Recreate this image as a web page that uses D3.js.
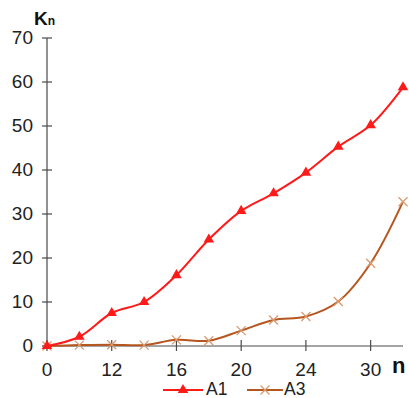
<!DOCTYPE html>
<html>
<head>
<meta charset="utf-8">
<script src="https://cdn.jsdelivr.net/npm/d3@7"></script>
<style>
  html, body { margin: 0; padding: 0; background: #fff; }
  svg { display: block; font-family: Arial, "Liberation Sans", sans-serif; }
</style>
</head>
<body>
<svg id="chart" width="409" height="398"></svg>
<script>
// Sample positions along n (only some are labelled on the axis)
const categories = ["0", "6", "12", "14", "16", "18", "20", "22", "24", "27", "30", "33"];
const tickLabels = ["0", "12", "16", "20", "24", "30"];
const yTicks = [0, 10, 20, 30, 40, 50, 60, 70];

const seriesA1 = [0, 2.1, 7.5, 10.0, 16.1, 24.2, 30.7, 34.7, 39.4, 45.3, 50.2, 58.8];
const seriesA3 = [0, 0.2, 0.3, 0.2, 1.4, 1.2, 3.5, 5.9, 6.7, 10.1, 18.8, 32.8];

(function () {
  const svg = d3.select("#chart");
  const plotL = 47, plotR = 403, plotT = 38, plotB = 346;

  const x = d3.scalePoint().domain(categories).range([plotL, plotR]);
  const y = d3.scaleLinear().domain([0, 70]).range([plotB, plotT]);

  const axisColor = "#4a4a4a";

  // Y axis with ticks crossing the line
  svg.append("line").attr("x1", plotL).attr("x2", plotL).attr("y1", plotT).attr("y2", plotB)
    .attr("stroke", axisColor).attr("stroke-width", 1.2);
  svg.selectAll(".ytick").data(yTicks).enter().append("line")
    .attr("x1", plotL - 5).attr("x2", plotL + 5)
    .attr("y1", d => y(d)).attr("y2", d => y(d))
    .attr("stroke", axisColor).attr("stroke-width", 1.2);
  svg.selectAll(".ylab").data(yTicks).enter().append("text")
    .attr("x", plotL - 14).attr("y", d => y(d) + 6)
    .attr("text-anchor", "end").attr("font-size", 19).attr("fill", "#222")
    .text(d => d);

  // X axis
  svg.append("line").attr("x1", plotL).attr("x2", plotR).attr("y1", plotB).attr("y2", plotB)
    .attr("stroke", axisColor).attr("stroke-width", 1.2);
  const tickCats = categories.filter(c => tickLabels.includes(c));
  svg.selectAll(".xtick").data(tickCats).enter().append("line")
    .attr("x1", d => x(d)).attr("x2", d => x(d))
    .attr("y1", plotB - 6).attr("y2", plotB + 5)
    .attr("stroke", axisColor).attr("stroke-width", 1.2);
  svg.selectAll(".xlab").data(tickCats).enter().append("text")
    .attr("x", d => x(d)).attr("y", plotB + 30)
    .attr("text-anchor", "middle").attr("font-size", 19).attr("fill", "#222")
    .text(d => d);

  // Axis titles
  const kt = svg.append("text").attr("x", 34).attr("y", 25)
    .attr("font-weight", "bold").attr("fill", "#111");
  kt.append("tspan").attr("font-size", 19).text("K");
  kt.append("tspan").attr("font-size", 12).text("n");
  svg.append("text").attr("x", 392).attr("y", 373).attr("font-size", 22)
    .attr("font-weight", "bold").attr("fill", "#111").text("n");

  const line = d3.line().x((d, i) => x(categories[i])).y(d => y(d)).curve(d3.curveCatmullRom.alpha(0.5));

  const colA1 = "#ff1a1a", colA3 = "#b5561f", colA3m = "#d99a70";
  const tri = d3.symbol().type(d3.symbolTriangle).size(48);

  function cross(g, cx, cy, s) {
    g.append("path").attr("d", `M${cx - s},${cy - s}L${cx + s},${cy + s}M${cx - s},${cy + s}L${cx + s},${cy - s}`)
      .attr("stroke", colA3m).attr("stroke-width", 1.3).attr("fill", "none");
  }

  // A3 series
  svg.append("path").datum(seriesA3).attr("d", line).attr("fill", "none")
    .attr("stroke", colA3).attr("stroke-width", 2);
  const gA3 = svg.append("g");
  seriesA3.forEach((v, i) => cross(gA3, x(categories[i]), y(v), 4.5));

  // A1 series
  svg.append("path").datum(seriesA1).attr("d", line).attr("fill", "none")
    .attr("stroke", colA1).attr("stroke-width", 2);
  svg.selectAll(".a1m").data(seriesA1).enter().append("path")
    .attr("d", tri).attr("fill", colA1)
    .attr("transform", (d, i) => `translate(${x(categories[i])},${y(d)})`);

  // Legend
  const ly = 390;
  svg.append("line").attr("x1", 163).attr("x2", 203).attr("y1", ly).attr("y2", ly)
    .attr("stroke", colA1).attr("stroke-width", 2);
  svg.append("path").attr("d", tri).attr("fill", colA1).attr("transform", `translate(183,${ly})`);
  svg.append("text").attr("x", 206).attr("y", 395).attr("font-size", 17.5).attr("fill", "#222").text("A1");
  svg.append("line").attr("x1", 247).attr("x2", 283).attr("y1", ly).attr("y2", ly)
    .attr("stroke", colA3).attr("stroke-width", 2);
  cross(svg, 265, ly, 4.5);
  svg.append("text").attr("x", 284).attr("y", 395).attr("font-size", 17.5).attr("fill", "#222").text("A3");
})();
</script>
</body>
</html>
